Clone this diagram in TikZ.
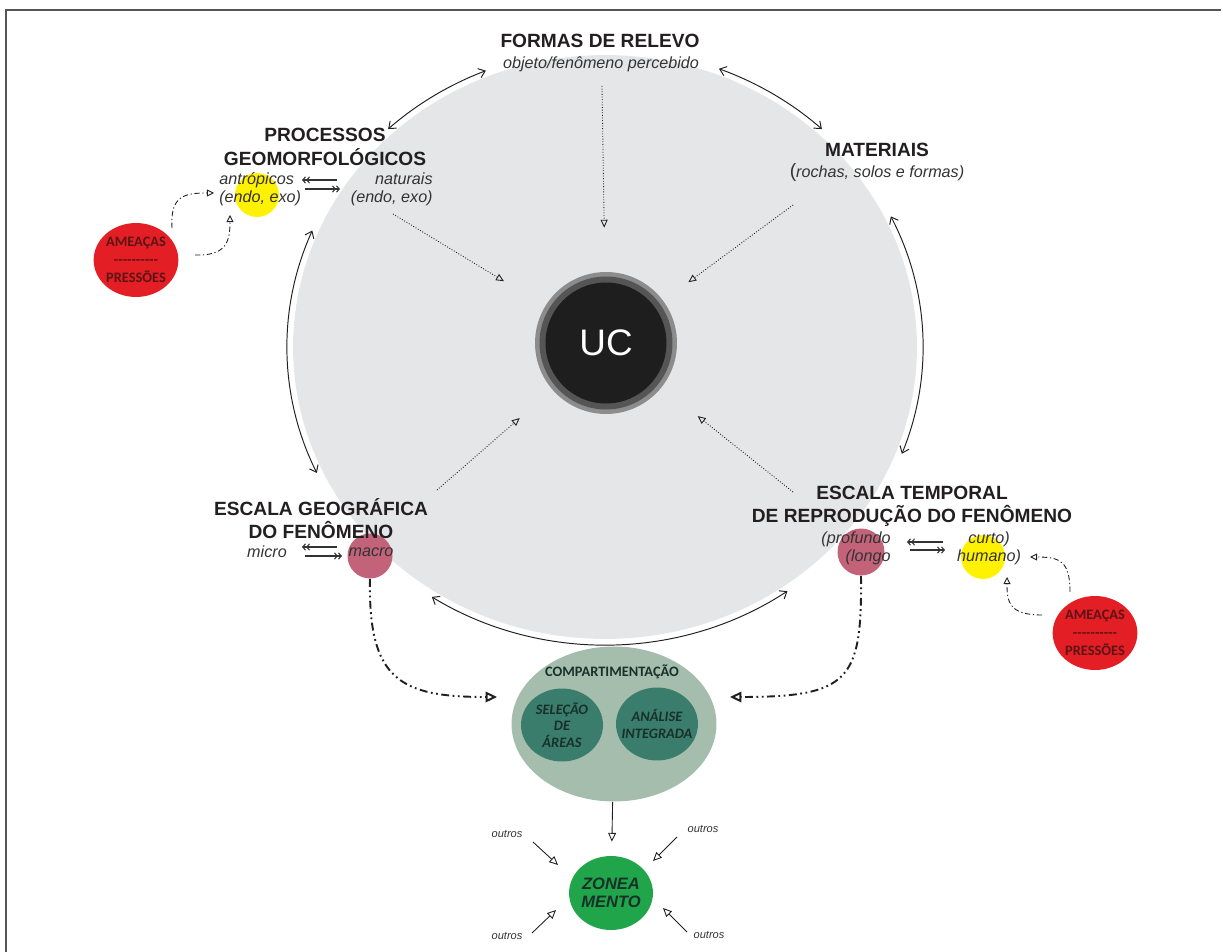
\documentclass[tikz,border=0pt]{standalone}
\usepackage{fontspec}
\setmainfont{Liberation Sans}
\newfontfamily\calib{Carlito}
\usetikzlibrary{arrows.meta,shapes.geometric,positioning}
\definecolor{diskgray}{HTML}{E5E6E7}
\definecolor{ink}{HTML}{231F20}
\definecolor{softink}{HTML}{333333}
\definecolor{threatred}{HTML}{E31E24}
\definecolor{threatink}{HTML}{5C1416}
\definecolor{hazeyellow}{HTML}{FFF200}
\definecolor{mauve}{HTML}{C2637A}
\definecolor{sage}{HTML}{A5BDAD}
\definecolor{deepteal}{HTML}{3A7D6C}
\definecolor{tealink}{HTML}{17302A}
\definecolor{zonegreen}{HTML}{20A54A}
\definecolor{ucblack}{HTML}{1E1E1E}
\definecolor{ringlight}{HTML}{8C8C8C}
\definecolor{ringdark}{HTML}{555555}
\begin{document}
\begin{tikzpicture}[x=0.02cm,y=-0.02cm,
    ring/.style={{Straight Barb[length=3.5pt,width=5.5pt]}-{Straight Barb[length=3.5pt,width=5.5pt]},line width=0.55pt,draw=ink},
    feed/.style={-{Triangle[open,length=4.5pt,width=4pt]},densely dotted,line width=0.5pt,draw=ink}]
    \tikzstyle{title} = [font=\fontsize{10.9}{13.2}\selectfont\bfseries, text=ink, align=center, inner sep=0pt]
    \tikzstyle{sub} = [font=\fontsize{9.2}{10.4}\selectfont\itshape, text=softink, inner sep=0pt]
    \tikzstyle{dot} = [circle, inner sep=0pt, minimum size=0.9cm]
    \tikzstyle{threat} = [ellipse, fill=threatred, minimum width=1.66cm, minimum height=1.48cm, inner sep=0pt, align=center, text=threatink, font=\calib\bfseries\fontsize{8.2}{10.2}\selectfont]
    \tikzstyle{lobe} = [ellipse, fill=deepteal, minimum width=1.64cm, minimum height=1.46cm, inner sep=0pt]
    \tikzstyle{lobetext} = [align=center, text=tealink, font=\calib\bfseries\itshape\fontsize{8.2}{9.4}\selectfont]
    \tikzstyle{pairl} = [{Straight Barb[length=1.6pt,width=3.6pt]Straight Barb[length=1.6pt,width=3.6pt]}-, line width=0.6pt, draw=softink]
    \tikzstyle{pairr} = [-{Straight Barb[length=1.6pt,width=3.6pt]Straight Barb[length=1.6pt,width=3.6pt]}, line width=0.6pt, draw=softink]
    \tikzstyle{press} = [-{Triangle[open,length=4pt,width=4pt]}, dash pattern=on 3pt off 1.5pt on 0.7pt off 1.5pt, line width=0.5pt, draw=ink]
    \tikzstyle{flow} = [-{Triangle[open,length=6.5pt,width=6pt]}, dash pattern=on 4.5pt off 2pt on 1pt off 2pt on 1pt off 2pt, line width=1.1pt, draw=ink]
    \tikzstyle{toz} = [-{Triangle[open,length=5pt,width=4.5pt]}, line width=0.5pt, draw=ink]
    \tikzstyle{other} = [font=\fontsize{6.3}{7}\selectfont\itshape, text=softink, inner sep=0pt]
    \useasboundingbox (0,0) rectangle (1223,952);
    \draw[draw=ringdark,line width=0.7pt] (6,952) -- (6,10) -- (1221,10);
        % disk and uc
        \node[ellipse, fill=diskgray, minimum width=12.48cm, minimum height=11.68cm, inner sep=0pt] (disk) at (605,347) {};
        \node[circle, fill=ringlight, minimum size=2.84cm, inner sep=0pt] (ucring) at (606,343) {};
        \node[circle, fill=ringdark, minimum size=2.66cm, inner sep=0pt] at (ucring) {};
        \node[circle, fill=ucblack, minimum size=2.42cm, inner sep=0pt, text=white, font=\fontsize{21}{21}\selectfont] (uc) at (ucring) {UC};
        % arcs round the disk
        \draw[ring] ([shift={(-112:318 and 298)}]disk.center) arc[start angle=-112, end angle=-133, x radius=318, y radius=298];
        \draw[ring] ([shift={(-69:318 and 298)}]disk.center) arc[start angle=-69, end angle=-47, x radius=318, y radius=298];
        \draw[ring] ([shift={(-157:318 and 298)}]disk.center) arc[start angle=-157, end angle=-205, x radius=318, y radius=298];
        \draw[ring] ([shift={(-26:318 and 298)}]disk.center) arc[start angle=-26, end angle=21, x radius=318, y radius=298];
        \draw[ring] ([shift={(-237:318 and 298)}]disk.center) arc[start angle=-237, end angle=-305, x radius=318, y radius=298];
        % top
        \node[title] (formas) at (600,41) {FORMAS DE RELEVO};
        \node[sub] (objeto) at (601,64) {objeto/fenômeno percebido};
        % processos
        \node[dot, fill=hazeyellow, minimum size=0.88cm] (yl) at (257,195) {};
        \node[title] (proc) at (325,147) {PROCESSOS\\GEOMORFOLÓGICOS};
        \node[sub, anchor=west, align=left] (antr) at (219,189) {antrópicos\\(endo, exo)};
        \node[sub, anchor=east, align=right] (nat) at (433,189) {naturais\\(endo, exo)};
        % materiais
        \node[title] (mat) at (877,150) {MATERIAIS};
        \node[sub] (roch) at (877,173) {{\upshape\fontsize{11}{11}\selectfont(}rochas, solos e formas)};
        % escala geografica
        \node[dot, fill=mauve] (macro) at (370,556) {};
        \node[title] (geo) at (321,519) {ESCALA GEOGRÁFICA\\DO FENÔMENO};
        \node[sub] (micro) at (267,552) {micro};
        \node[sub] (macrot) at (371,552) {macro};
        % escala temporal
        \node[dot, fill=mauve, minimum size=0.94cm] (longo) at (861,552) {};
        \node[dot, fill=hazeyellow, minimum size=0.88cm] (yr) at (983,557) {};
        \node[title] (temp) at (912,506) {ESCALA TEMPORAL\\DE REPRODUÇÃO DO FENÔMENO};
        \node[sub, anchor=east, align=right] (prof) at (891,548) {(profundo\\(longo};
        \node[sub, align=center] (curto) at (989,548) {curto)\\humano)};
        % pairs
        \coordinate (p1a) at (302,180); \coordinate (p1b) at (337,180);
        \coordinate (p2a) at (305,189); \coordinate (p2b) at (340,189);
        \draw[pairl] (p1a) -- (p1b);
        \draw[pairr] (p2a) -- (p2b);
        \coordinate (p3a) at (302,547); \coordinate (p3b) at (337,547);
        \coordinate (p4a) at (305,556); \coordinate (p4b) at (342,556);
        \draw[pairl] (p3a) -- (p3b);
        \draw[pairr] (p4a) -- (p4b);
        \coordinate (p5a) at (907,542); \coordinate (p5b) at (943,542);
        \coordinate (p6a) at (910,550); \coordinate (p6b) at (945,550);
        \draw[pairl] (p5a) -- (p5b);
        \draw[pairr] (p6a) -- (p6b);
        % dotted feeds to uc
        \coordinate (objfoot) at (602,86);
        \coordinate (natfoot) at (393,214);
        \coordinate (matfoot) at (793,205);
        \coordinate (geohead) at (437,490);
        \coordinate (temphead) at (793,492);
        \draw[feed, shorten >=0.88cm] (objfoot) -- (ucring);
        \draw[feed, shorten >=0.96cm] (natfoot) -- (ucring);
        \draw[feed, shorten >=0.62cm] (matfoot) -- (ucring);
        \draw[feed, shorten >=0.86cm] (geohead) -- (ucring);
        \draw[feed, shorten >=0.92cm] (temphead) -- (ucring);
        % threats
        \node[threat] (amea) at (136,260) {AMEAÇAS\\{-}{-}{-}{-}{-}{-}{-}{-}{-}{-}\\PRESSÕES};
        \node[threat] (ameb) at (1095,633) {AMEAÇAS\\{-}{-}{-}{-}{-}{-}{-}{-}{-}{-}\\PRESSÕES};
        \coordinate (a1s) at (172,228); \coordinate (a1e) at (214,193);
        \coordinate (a2s) at (195,255); \coordinate (a2e) at (230,215);
        \draw[press] (a1s) .. controls (170,196) and (184,193) .. (a1e);
        \draw[press] (a2s) .. controls (226,256) and (230,242) .. (a2e);
        \coordinate (b1s) at (1070,592); \coordinate (b1e) at (1030,557);
        \coordinate (b2s) at (1042,615); \coordinate (b2e) at (1007,577);
        \draw[press] (b1s) .. controls (1070,561) and (1060,557) .. (b1e);
        \draw[press] (b2s) .. controls (1008,615) and (1007,601) .. (b2e);
        % compartimentacao
        \node[ellipse, fill=sage, minimum width=4.1cm, minimum height=3.1cm, inner sep=0pt] (comp) at (614,724) {};
        \node[font=\calib\bfseries\fontsize{8.2}{9}\selectfont, text=tealink, inner sep=0pt] at (612,672) {COMPARTIMENTAÇÃO};
        \node[lobe] (sel) at (562,725) {};
        \node[lobe] (ana) at (657,724) {};
        \node[lobetext] at (sel) {SELEÇÃO\\DE\\ÁREAS};
        \node[lobetext] at (ana) {ANÁLISE\\INTEGRADA};
        \coordinate (compl) at (497,697);
        \coordinate (compr) at (730,697);
        \draw[flow] (macro.south) .. controls (368,680) and (400,697) .. (compl);
        \draw[flow] (longo.south) .. controls (862,680) and (850,697) .. (compr);
        % zoneamento
        \node[ellipse, fill=zonegreen, minimum width=1.66cm, minimum height=1.48cm, inner sep=0pt, align=center, text=tealink, font=\fontsize{9.4}{10.4}\selectfont\bfseries\itshape] (zone) at (611,893) {ZONEA\\MENTO};
        \draw[toz, shorten >=0.28cm] (comp) -- (zone);
        \node[other] (o1) at (507,834) {outros};
        \node[other] (o2) at (703,829) {outros};
        \node[other] (o3) at (507,936) {outros};
        \node[other] (o4) at (709,935) {outros};
        \coordinate (o1s) at (533,842); \coordinate (o1e) at (558,865);
        \coordinate (o2s) at (677,837); \coordinate (o2e) at (653,861);
        \coordinate (o3s) at (532,933); \coordinate (o3e) at (556,910);
        \coordinate (o4s) at (687,932); \coordinate (o4e) at (663,908);
        \draw[toz] (o1s) -- (o1e);
        \draw[toz] (o2s) -- (o2e);
        \draw[toz] (o3s) -- (o3e);
        \draw[toz] (o4s) -- (o4e);
    \end{tikzpicture}
\end{document}
